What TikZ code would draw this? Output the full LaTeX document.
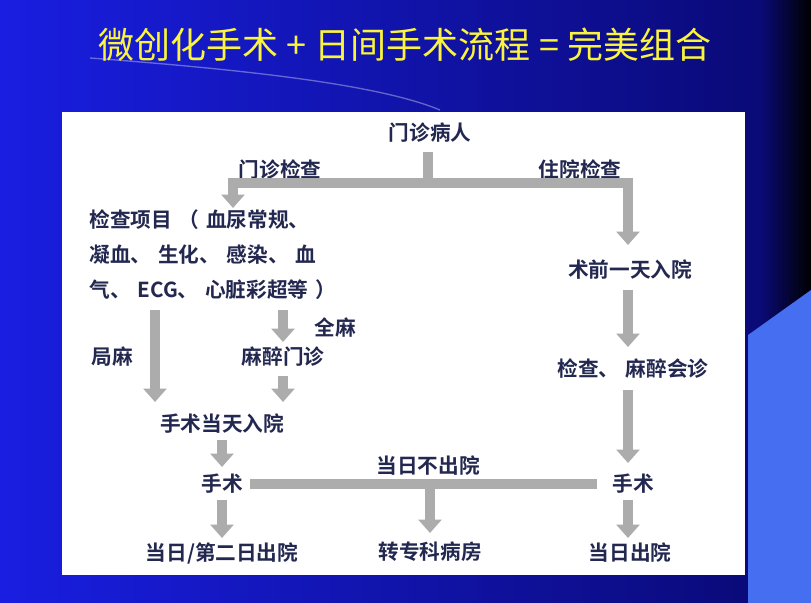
\documentclass[tikz,border=0pt]{standalone}
\usepackage{fontspec}
\newfontfamily\cjk{Noto Sans CJK SC}[BoldFont={Noto Sans CJK SC Bold}]
\usetikzlibrary{arrows.meta}
\definecolor{tx}{RGB}{35,40,80}
\definecolor{ar}{RGB}{172,172,172}
\definecolor{bgA}{RGB}{25,30,225}
\definecolor{bgB}{RGB}{10,10,120}
\definecolor{lb}{RGB}{70,110,240}
\definecolor{yl}{RGB}{250,245,60}
\newcommand\gp{\hspace{5pt}}
\begin{document}
\begin{tikzpicture}[x=0.75pt,y=-0.75pt,
  lab/.style={font=\cjk\bfseries\fontsize{15.5pt}{18pt}\selectfont,text=tx,inner sep=1pt},
  bar/.style={draw=ar,line width=7.5pt},
  arr/.style={draw=ar,line width=7.5pt,-{Triangle[width=17pt,length=10pt]}}]
\useasboundingbox (0,0) rectangle (811,603);
\shade[left color=bgA,right color=bgB] (0,0) rectangle (760,603);
\shade[left color=bgB,right color=black] (760,0) rectangle (811,603);
\fill[lb] (748,335) -- (811,290) -- (811,603) -- (748,603) -- cycle;
\draw[white,opacity=0.35,line width=1pt] (90,58) .. controls (250,70) and (380,85) .. (440,110);
\node[font=\cjk\fontsize{27pt}{32pt}\selectfont,text=yl] (title) at (405,45) {微创化手术 + 日间手术流程 = 完美组合};
\fill[white] (62,112) rectangle (745,575);
\node[lab] (mz) at (430,133) {门诊病人};
\node[lab] (mzjc) at (280,170) {门诊检查};
\node[lab] (zyjc) at (580,170) {住院检查};
\node[lab,anchor=west] (l1) at (88,220) {检查项目\gp（\gp 血尿常规、};
\node[lab,anchor=west] (l2) at (88,255) {凝血、\gp 生化、\gp 感染、\gp 血};
\node[lab,anchor=west] (l3) at (88,290) {气、\gp ECG、\gp 心脏彩超等\gp）};
\node[lab] (sq) at (630,270) {术前一天入院};
\node[lab] (jc) at (633,369) {检查、\gp 麻醉会诊};
\node[lab] (ss2) at (633,484) {手术};
\node[lab] (cy2) at (630,553) {当日出院};
\node[lab] (jm) at (112,357) {局麻};
\node[lab] (qm) at (335,328) {全麻};
\node[lab] (mzmz) at (283,357) {麻醉门诊};
\node[lab] (sd) at (222,424) {手术当天入院};
\node[lab] (ss1) at (222,484) {手术};
\node[lab] (bcy) at (428,466) {当日不出院};
\node[lab] (zk) at (430,552) {转专科病房};
\node[lab] (cy1) at (222,553) {当日/第二日出院};
\coordinate (j1) at (428,183);
\draw[bar] (428,152) -- (j1);
\draw[bar] (228,183) -- (633,183);
\draw[arr] (233,180) -- (233,208);
\draw[arr] (628,180) -- (628,245);
\draw[arr] (628,290) -- (628,347);
\draw[arr] (628,390) -- (628,463);
\draw[arr] (628,500) -- (628,538);
\draw[arr] (155,310) -- (155,402);
\draw[arr] (283,310) -- (283,342);
\draw[arr] (283,376) -- (283,402);
\draw[arr] (222,440) -- (222,467);
\draw[bar] (250,484) -- (597,484);
\draw[arr] (430,481) -- (430,533);
\draw[arr] (222,500) -- (222,538);
\end{tikzpicture}
\end{document}
